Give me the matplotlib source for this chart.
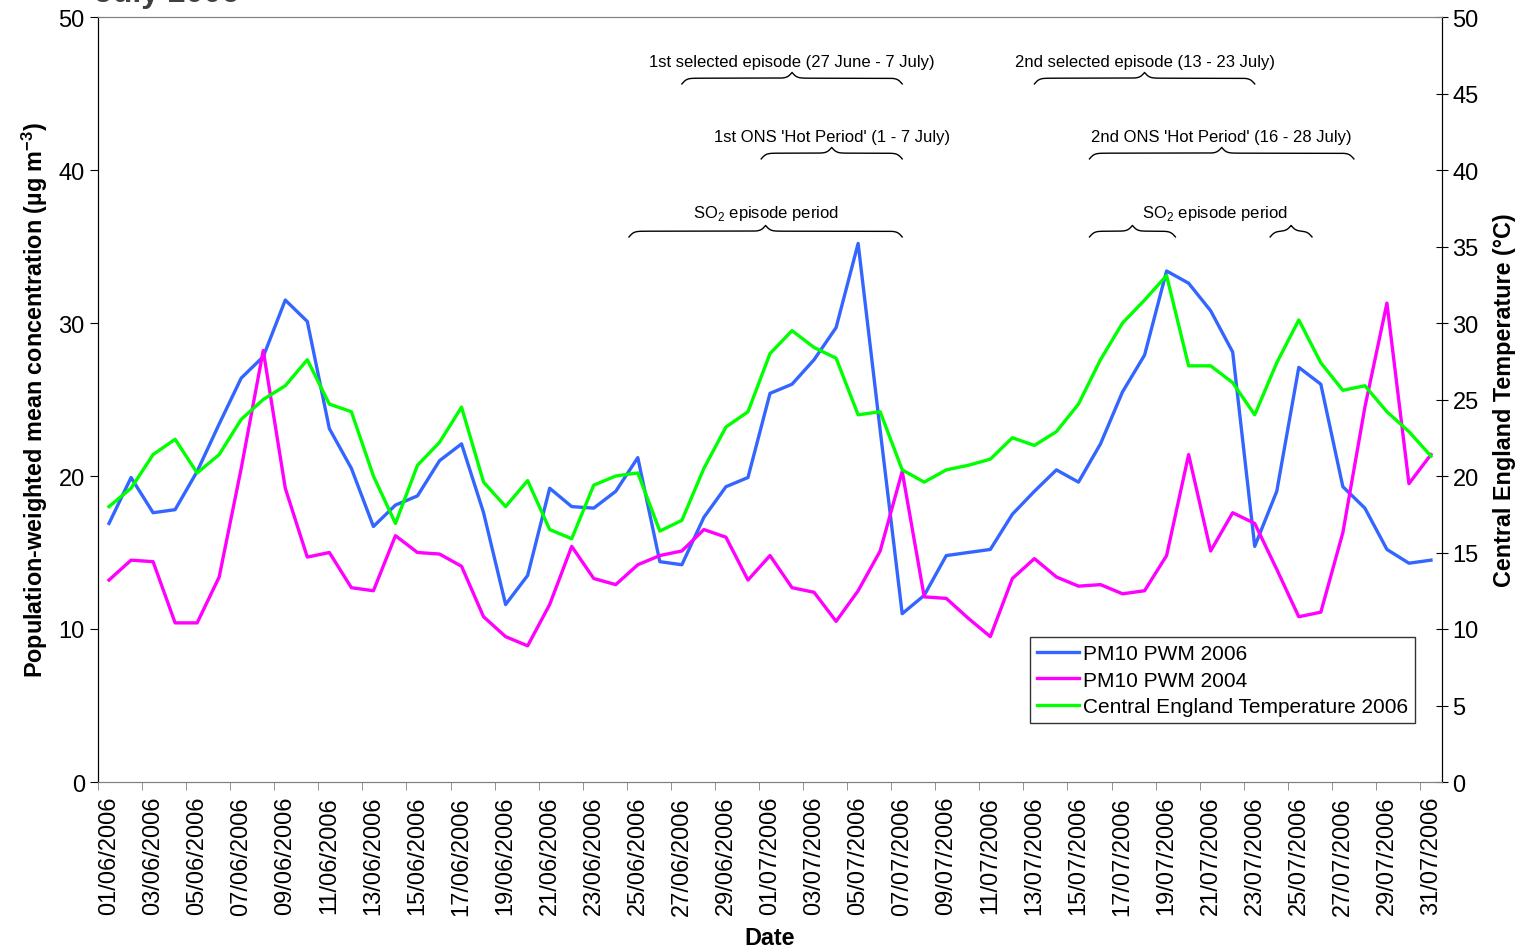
import numpy as np
import matplotlib
matplotlib.use("Agg")
import matplotlib.pyplot as plt

plt.rcParams['font.family'] = ['Liberation Sans', 'DejaVu Sans']
plt.rcParams['mathtext.fontset'] = 'custom'
plt.rcParams['mathtext.rm'] = 'Liberation Sans'
plt.rcParams['mathtext.bf'] = 'Liberation Sans:bold'

# Daily values, 1 June - 31 July 2006
dates = [f"{d:02d}/06/2006" for d in range(1, 31)] + [f"{d:02d}/07/2006" for d in range(1, 32)]

pm10_2006 = [16.9, 19.9, 17.6, 17.8, 20.3, 23.4, 26.4, 27.8, 31.5, 30.1,
             23.1, 20.5, 16.7, 18.1, 18.7, 21.0, 22.1, 17.6, 11.6, 13.5,
             19.2, 18.0, 17.9, 19.0, 21.2, 14.4, 14.2, 17.3, 19.3, 19.9,
             25.4, 26.0, 27.6, 29.7, 35.2, 23.0, 11.0, 12.2, 14.8, 15.0,
             15.2, 17.5, 19.0, 20.4, 19.6, 22.1, 25.5, 27.9, 33.4, 32.6,
             30.8, 28.1, 15.4, 19.0, 27.1, 26.0, 19.3, 17.9, 15.2, 14.3,
             14.5]

pm10_2004 = [13.2, 14.5, 14.4, 10.4, 10.4, 13.4, 20.5, 28.2, 19.2, 14.7,
             15.0, 12.7, 12.5, 16.1, 15.0, 14.9, 14.1, 10.8, 9.5, 8.9,
             11.6, 15.4, 13.3, 12.9, 14.2, 14.8, 15.1, 16.5, 16.0, 13.2,
             14.8, 12.7, 12.4, 10.5, 12.5, 15.1, 20.3, 12.1, 12.0, 10.7,
             9.5, 13.3, 14.6, 13.4, 12.8, 12.9, 12.3, 12.5, 14.8, 21.4,
             15.1, 17.6, 16.9, 13.9, 10.8, 11.1, 16.3, 24.5, 31.3, 19.5,
             21.4]

cet_2006 = [18.0, 19.2, 21.4, 22.4, 20.2, 21.4, 23.7, 25.0, 25.9, 27.6,
            24.7, 24.2, 20.0, 16.9, 20.7, 22.2, 24.5, 19.6, 18.0, 19.7,
            16.5, 15.9, 19.4, 20.0, 20.2, 16.4, 17.1, 20.5, 23.2, 24.2,
            28.0, 29.5, 28.4, 27.7, 24.0, 24.2, 20.4, 19.6, 20.4, 20.7,
            21.1, 22.5, 22.0, 22.9, 24.7, 27.6, 30.0, 31.5, 33.1, 27.2,
            27.2, 26.1, 24.0, 27.4, 30.2, 27.4, 25.6, 25.9, 24.2, 22.9,
            21.3]

# Bracketed periods: (start index, end index, row height, label)
periods = [
    (26, 36, 46.0, "1st selected episode (27 June - 7 July)"),
    (42, 52, 46.0, "2nd selected episode (13 - 23 July)"),
    (29.6, 36, 41.1, "1st ONS 'Hot Period' (1 - 7 July)"),
    (44.5, 56.5, 41.1, "2nd ONS 'Hot Period' (16 - 28 July)"),
    (23.6, 36, 36.0, "SO$_2$ episode period"),
    (44.5, 48.4, 36.0, None),
    (52.7, 54.6, 36.0, None),
]
so2_label_x = 50.2


def brace(ax, x0, x1, y, h=0.75, beta=9.0):
    # curly brace opening downward with its tip pointing up at the middle
    xm = (x0 + x1) / 2
    xl = np.linspace(x0, xm, 200)
    yl = 1 / (1 + np.exp(-beta * (xl - x0))) + 1 / (1 + np.exp(-beta * (xl - xm)))
    yl = (yl - 0.5) * h
    xs = np.concatenate([xl, (xm + (xm - xl))[::-1]])
    ys = np.concatenate([yl, yl[::-1]])
    ax.plot(xs, y + ys - h / 2, color="black", lw=1.0, clip_on=False)
    return xm


x = np.arange(len(dates))

fig = plt.figure(figsize=(15.28, 9.53), dpi=100)
ax = fig.add_axes([98 / 1528, 1 - 783 / 953, 1344 / 1528, 765 / 953])
ax2 = ax.twinx()

l1, = ax.plot(x, pm10_2006, color="#3366FF", lw=2.4, label="PM10 PWM 2006")
l2, = ax.plot(x, pm10_2004, color="#FF00FF", lw=2.4, label="PM10 PWM 2004")
l3, = ax2.plot(x, cet_2006, color="#00FF00", lw=2.4, label="Central England Temperature 2006")

ax.set_xlim(-0.5, len(dates) - 0.5)
ax.set_ylim(0, 50)
ax2.set_ylim(0, 50)
ax.set_yticks(np.arange(0, 51, 10))
ax2.set_yticks(np.arange(0, 51, 5))

ax.set_xticks(x[::2])
ax.set_xticklabels(dates[::2], rotation=90)
ax.set_xticks(np.arange(-0.5, len(dates), 2), minor=True)
ax.tick_params(axis="x", which="major", length=0, labelsize=17, pad=10)
ax.tick_params(axis="x", which="minor", length=6, direction="out", color="#808080")
ax.tick_params(axis="y", length=6, direction="out", labelsize=17)
ax2.tick_params(axis="y", length=8, direction="inout", labelsize=17)

for a in (ax, ax2):
    a.spines["top"].set_color("#808080")
    a.spines["bottom"].set_color("#808080")
    a.spines["left"].set_color("black")
    a.spines["right"].set_color("black")

ax.set_ylabel("Population-weighted mean concentration (µg m$^{\\mathbf{-3}}$)",
              fontsize=16.8, fontweight="bold", labelpad=6)
ax2.set_ylabel("Central England Temperature (°C)", fontsize=16.8, fontweight="bold",
               rotation=90, labelpad=10)
ax.set_xlabel("Date", fontsize=16.8, fontweight="bold", labelpad=8)

for x0, x1, yb, text in periods:
    xm = brace(ax, x0, x1, yb)
    if text is not None:
        ax.text(xm, yb + 0.6, text, ha="center", va="bottom", fontsize=12)
ax.text(so2_label_x, 36.6, "SO$_2$ episode period", ha="center", va="bottom", fontsize=12)

leg = ax.legend(handles=[l1, l2, l3], loc="lower right", bbox_to_anchor=(0.98, 0.077),
                borderaxespad=0, fontsize=15, frameon=True, fancybox=False,
                edgecolor="black", handlelength=2.0, handletextpad=0.2,
                labelspacing=0.35, borderpad=0.35)
leg.get_frame().set_linewidth(1.0)

fig.text(95 / 1528, 1 - 2 / 953, "July 2006", fontsize=23, fontweight="bold",
         color="#404040", ha="left", va="baseline")

fig.savefig("out.png", dpi=100)
